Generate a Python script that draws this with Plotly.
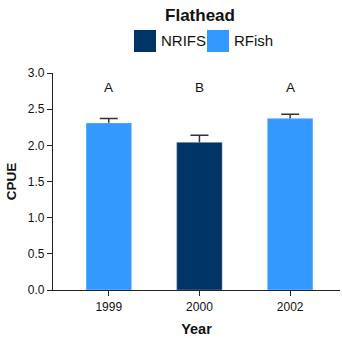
import plotly.graph_objects as go

# Flathead CPUE by survey year
years = ["1999", "2000", "2002"]
cpue = [2.31, 2.04, 2.37]
cpue_se = [0.06, 0.10, 0.06]
survey = ["RFish", "NRIFS", "RFish"]
groups = ["A", "B", "A"]

legend_names = ["NRIFS", "RFish"]
palette = {"NRIFS": "#003366", "RFish": "#3399FF"}

W, H = 342, 338
L, R, T, B = 53, 2, 73, 48

bar_colors = [palette[s] for s in survey]

fig = go.Figure()
# bars carrying the error whiskers (lower half ends inside the bar)
fig.add_trace(go.Bar(
    x=years, y=cpue, width=0.5,
    marker=dict(color=bar_colors, line=dict(width=0)),
    error_y=dict(type="data", symmetric=False, array=cpue_se,
                 arrayminus=[0.2] * len(cpue_se),
                 color="#333333", thickness=1.5, width=9),
    showlegend=False, hoverinfo="skip",
))
# same bars drawn on top so only the upper whisker shows
fig.add_trace(go.Bar(
    x=years, y=cpue, width=0.5,
    marker=dict(color=bar_colors, line=dict(color="rgba(255,255,255,0.3)", width=1)),
    showlegend=False,
))

# significance letters above each bar
for i, g in enumerate(groups):
    fig.add_annotation(x=i, y=2.8, xref="x", yref="y", text=g, showarrow=False,
                       font=dict(size=13.5, color="#111111"))

# legend drawn as swatches + labels above the plot
pw = W - L - R
ph = H - T - B
def px_x(px):
    return (px - L) / pw
def px_y(py):
    return (H - B - py) / ph

swatch_x = [134, 207]
for name, sx in zip(legend_names, swatch_x):
    fig.add_shape(type="rect", xref="paper", yref="paper",
                  x0=px_x(sx), x1=px_x(sx + 22), y0=px_y(52), y1=px_y(30),
                  fillcolor=palette[name], line=dict(color=palette[name], width=0))
    fig.add_annotation(xref="paper", yref="paper", x=px_x(sx + 25), y=px_y(41),
                       xanchor="left", yanchor="middle", text=name, showarrow=False,
                       font=dict(size=15, color="#111111"))

fig.update_layout(
    width=W, height=H,
    margin=dict(l=L, r=R, t=T, b=B),
    paper_bgcolor="white", plot_bgcolor="white",
    barmode="overlay",
    font=dict(family="Liberation Sans, Arial, sans-serif", color="#111111"),
    title=dict(text="<b>Flathead</b>", x=px_x(200), xref="paper", xanchor="center",
               y=1 - 15 / H, yanchor="middle", font=dict(size=17, color="#111111")),
    showlegend=False,
    xaxis=dict(
        type="category", range=[-0.615, 2.55],
        showline=True, linecolor="#222222", linewidth=1.2,
        ticks="outside", ticklen=5, tickcolor="#222222",
        tickfont=dict(size=12), showgrid=False, zeroline=False,
        title=dict(text="<b>Year</b>", font=dict(size=14.5), standoff=11),
    ),
    yaxis=dict(
        range=[0, 3.0], dtick=0.5, tickformat=".1f",
        showline=True, linecolor="#222222", linewidth=1.2,
        ticks="outside", ticklen=5, tickcolor="#222222",
        tickfont=dict(size=12), showgrid=False, zeroline=False,
        title=dict(text="<b>CPUE</b>", font=dict(size=13.5), standoff=8),
    ),
)

fig.write_html("out.html")
